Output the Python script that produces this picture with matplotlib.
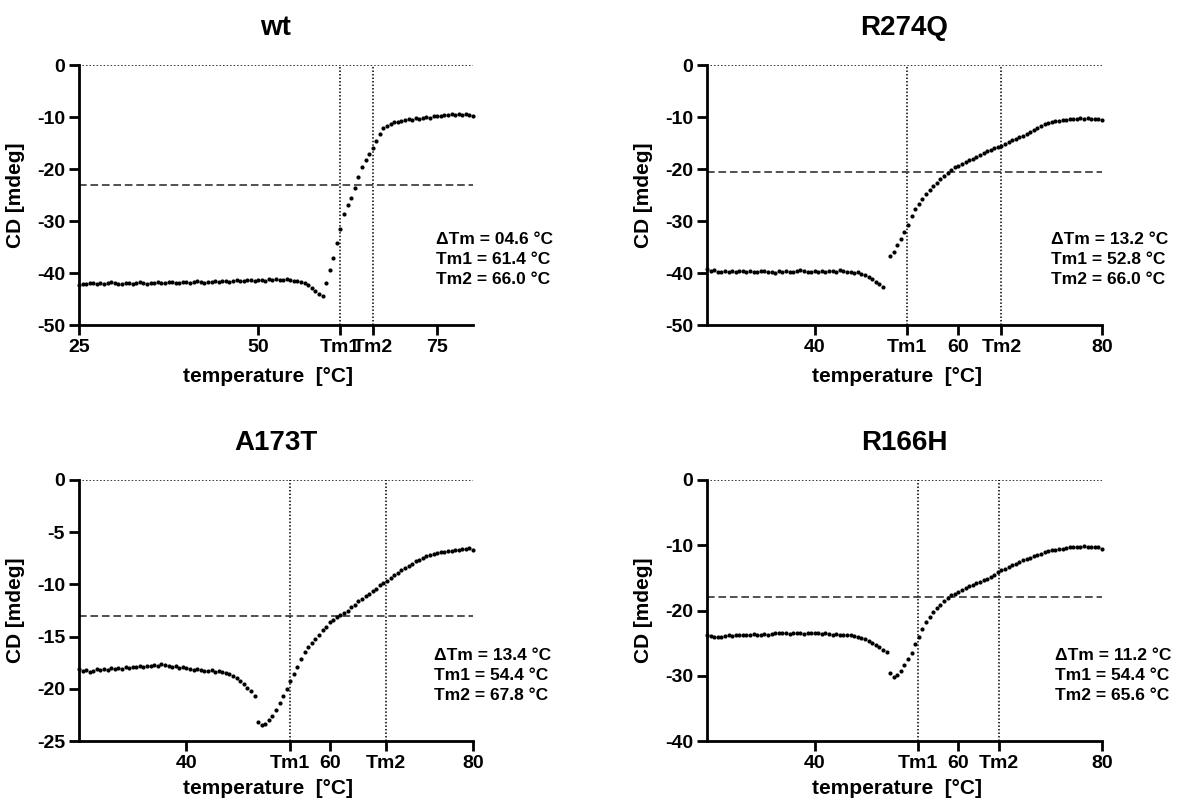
import numpy as np
import matplotlib.pyplot as plt

plt.rcParams['font.family'] = ['Liberation Sans', 'DejaVu Sans']
plt.rcParams['font.weight'] = 'bold'
plt.rcParams['axes.unicode_minus'] = False

# measurement grid, 0.5 degC steps from 25 to 80
temperature = np.arange(25.0, 80.01, 0.5)

titles = ["wt", "R274Q", "A173T", "R166H"]

cd_wt = [
    -42.3, -42.1, -42.2, -41.9, -42.0, -42.2, -41.9, -42.1, -42.0, -41.8,
    -41.9, -42.1, -42.2, -42.0, -41.9, -42.1, -42.0, -41.8, -42.0, -42.2,
    -42.0, -41.9, -41.8, -42.0, -41.9, -41.7, -41.8, -42.0, -41.9, -41.8,
    -41.7, -41.9, -41.8, -41.6, -41.7, -41.9, -41.8, -41.7, -41.6, -41.8,
    -41.6, -41.5, -41.7, -41.5, -41.4, -41.6, -41.5, -41.3, -41.4, -41.6,
    -41.4, -41.3, -41.5, -41.2, -41.3, -41.1, -41.3, -41.4, -41.2, -41.4,
    -41.5, -41.6, -41.8, -42.0, -42.3, -42.8, -43.4, -44.0, -44.5, -42.0,
    -39.4, -37.2, -34.3, -31.5, -28.6, -27.0, -25.5, -23.6, -21.6, -19.6,
    -18.3, -17.2, -16.0, -14.7, -13.3, -12.2, -11.8, -11.4, -11.0, -10.9,
    -10.7, -10.6, -10.4, -10.5, -10.2, -10.3, -10.1, -10.0, -10.1, -9.9,
    -9.8, -9.9, -9.6, -9.7, -9.5, -9.6, -9.4, -9.6, -9.5, -9.7,
    -9.9,
]

cd_r274q = [
    -39.3, -39.6, -39.5, -39.8, -39.9, -39.6, -39.8, -39.7, -39.9, -39.7,
    -39.6, -39.8, -39.7, -39.9, -39.8, -39.6, -39.7, -39.9, -39.8, -40.0,
    -39.7, -39.8, -39.6, -39.9, -39.8, -39.6, -39.5, -39.7, -39.8, -39.9,
    -39.7, -39.8, -39.6, -39.9, -39.7, -39.6, -39.8, -39.5, -39.7, -39.9,
    -39.8, -40.0, -39.9, -40.1, -40.4, -40.8, -41.2, -41.7, -42.2, -42.6,
    np.nan, -36.8, -36.0, -34.6, -33.5, -32.2, -30.8, -29.0, -27.6, -26.8,
    -25.7, -24.9, -24.1, -23.3, -22.6, -21.9, -21.3, -20.7, -20.2, -19.7,
    -19.4, -19.0, -18.6, -18.3, -18.0, -17.6, -17.3, -17.0, -16.6, -16.4,
    -16.0, -15.7, -15.5, -15.1, -14.8, -14.5, -14.2, -13.9, -13.6, -13.3,
    -12.8, -12.5, -12.1, -11.8, -11.4, -11.2, -11.0, -10.8, -10.7, -10.6,
    -10.5, -10.4, -10.3, -10.3, -10.2, -10.3, -10.2, -10.3, -10.4, -10.4,
    -10.6,
]

cd_a173t = [
    -18.1, -18.3, -18.2, -18.4, -18.3, -18.1, -18.2, -18.1, -18.2, -18.0,
    -18.1, -18.0, -18.1, -17.9, -18.0, -17.9, -17.9, -17.8, -17.9, -17.8,
    -17.8, -17.7, -17.8, -17.6, -17.7, -17.8, -17.9, -17.8, -18.0, -17.9,
    -18.0, -18.1, -18.2, -18.1, -18.2, -18.3, -18.3, -18.2, -18.4, -18.3,
    -18.4, -18.5, -18.6, -18.8, -19.0, -19.3, -19.5, -19.9, -20.2, -20.7,
    -23.2, -23.5, -23.4, -23.0, -22.6, -22.0, -21.4, -20.7, -20.0, -19.3,
    -18.6, -17.9, -17.1, -16.5, -16.0, -15.6, -15.2, -14.8, -14.4, -14.1,
    -13.6, -13.4, -13.1, -12.9, -12.7, -12.5, -12.2, -12.0, -11.6, -11.4,
    -11.1, -10.9, -10.6, -10.4, -10.1, -9.9, -9.7, -9.4, -9.1, -8.9,
    -8.6, -8.4, -8.2, -8.0, -7.8, -7.7, -7.5, -7.3, -7.2, -7.1,
    -7.0, -6.9, -6.9, -6.8, -6.8, -6.7, -6.7, -6.6, -6.6, -6.5,
    -6.7,
]

cd_r166h = [
    -23.8, -23.9, -24.0, -24.1, -24.0, -23.9, -23.8, -23.9, -23.8, -23.7,
    -23.8, -23.7, -23.8, -23.6, -23.7, -23.8, -23.6, -23.7, -23.6, -23.5,
    -23.5, -23.4, -23.5, -23.6, -23.5, -23.4, -23.5, -23.6, -23.4, -23.5,
    -23.5, -23.4, -23.6, -23.5, -23.6, -23.7, -23.6, -23.7, -23.8, -23.7,
    -23.8, -23.9, -24.0, -24.2, -24.4, -24.6, -25.0, -25.3, -25.6, -26.0,
    -26.3, -29.6, -30.2, -29.9, -29.3, -28.4, -27.5, -26.5, -25.2, -24.0,
    -22.8, -21.8, -21.0, -20.2, -19.6, -19.1, -18.6, -18.1, -17.7, -17.4,
    -17.1, -16.9, -16.6, -16.3, -16.1, -15.8, -15.6, -15.3, -15.1, -14.8,
    -14.5, -14.1, -13.8, -13.6, -13.3, -13.0, -12.8, -12.5, -12.3, -12.1,
    -11.9, -11.7, -11.5, -11.3, -11.1, -10.9, -10.8, -10.7, -10.6, -10.5,
    -10.4, -10.3, -10.3, -10.2, -10.2, -10.1, -10.2, -10.3, -10.2, -10.3,
    -10.5,
]

tm1 = [61.4, 52.8, 54.4, 54.4]
tm2 = [66.0, 66.0, 67.8, 65.6]
delta_tm = ["04.6", "13.2", "13.4", "11.2"]
half_cd = [-23.0, -20.5, -13.0, -18.0]
y_min = [-50, -50, -25, -40]
y_step = [10, 10, 5, 10]
x_ticks = [[25, 50, 75], [40, 60, 80], [40, 60, 80], [40, 60, 80]]

curves = [cd_wt, cd_r274q, cd_a173t, cd_r166h]

# layout in pixels (left, top, width, height) of the 1178x801 figure
W, H = 1178, 801
boxes = [(79, 65, 394, 260), (707, 65, 395, 260),
         (79, 480, 394, 261), (707, 480, 395, 261)]
text_x = [0.905, 0.870, 0.900, 0.880]
xlabel_gap = [52, 52, 47, 47]

fig = plt.figure(figsize=(W / 100, H / 100), dpi=100)

for i in range(4):
    left, top, w, h = boxes[i]
    ax = fig.add_axes([left / W, 1 - (top + h) / H, w / W, h / H])

    ax.plot(temperature, curves[i], ls='none', marker='o', ms=3.0,
            mew=0, color='black', clip_on=False, zorder=3)

    ax.axhline(0, color='black', lw=1.1, ls=(0, (1, 1.3)))
    ax.axvline(tm1[i], color='black', lw=1.1, ls=(0, (1, 1.3)))
    ax.axvline(tm2[i], color='black', lw=1.1, ls=(0, (1, 1.3)))
    ax.axhline(half_cd[i], color='#222222', lw=1.1, ls=(0, (5, 2.5)))

    ax.set_xlim(25, 80)
    ax.set_ylim(y_min[i], 0)

    ticks = x_ticks[i] + [tm1[i], tm2[i]]
    labels = [str(t) for t in x_ticks[i]] + ["Tm1", "Tm2"]
    ax.set_xticks(ticks)
    ax.set_xticklabels(labels)
    ax.set_yticks(np.arange(y_min[i], 1, y_step[i]))

    for side in ['top', 'right']:
        ax.spines[side].set_visible(False)
    for side in ['left', 'bottom']:
        ax.spines[side].set_linewidth(2)
    ax.tick_params(width=2, length=7, labelsize=14, pad=3)

    ax.set_ylabel("CD [mdeg]", fontsize=15, fontweight='bold')
    ax.yaxis.set_label_coords(-0.137, 0.5)
    ax.set_xlabel("temperature  [°C]", fontsize=15, fontweight='bold')
    ax.xaxis.set_label_coords(0.48, -xlabel_gap[i] / h)
    ax.xaxis.label.set_va('center')

    ax.text(0.5, 1 + 37 / h, titles[i], transform=ax.transAxes,
            ha='center', va='center', fontsize=20, fontweight='bold')

    lines = ["\u0394Tm = %s °C" % delta_tm[i],
             "Tm1 = %.1f °C" % tm1[i],
             "Tm2 = %.1f °C" % tm2[i]]
    for k, line in enumerate(lines):
        ax.text(text_x[i], 1 - (175 + 20 * k) / h, line,
                transform=ax.transAxes, ha='left', va='center',
                fontsize=12.5, fontweight='bold')

fig.savefig("out.png", dpi=100, facecolor='white')
